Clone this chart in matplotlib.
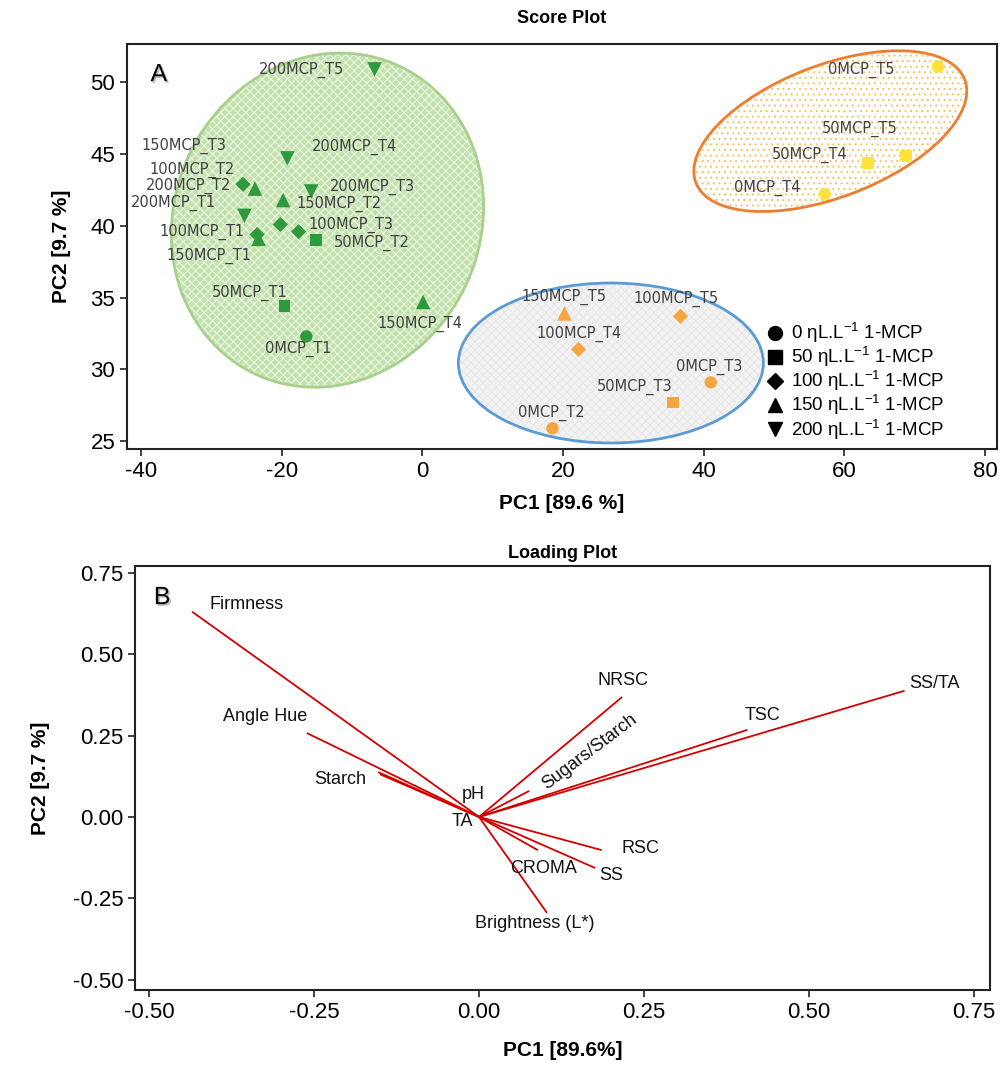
import matplotlib
matplotlib.use('Agg')
import matplotlib.pyplot as plt
from matplotlib.patches import Ellipse
from matplotlib.lines import Line2D
import matplotlib.transforms as mtrans
import matplotlib.patheffects as pe

ARIAL = 'Liberation Sans'

plt.rcParams['font.family'] = [ARIAL, 'DejaVu Sans']
plt.rcParams['mathtext.fontset'] = 'custom'
plt.rcParams['mathtext.rm'] = ARIAL
plt.rcParams['mathtext.default'] = 'regular'
plt.rcParams['hatch.linewidth'] = 0.7
plt.rcParams['axes.unicode_minus'] = False

# ---------------- Score plot data ----------------
sample_names = ['200MCP_T5', '200MCP_T4', '200MCP_T3', '200MCP_T1', '150MCP_T3', '150MCP_T2',
                '150MCP_T1', '150MCP_T4', '100MCP_T2', '200MCP_T2', '100MCP_T3', '100MCP_T1',
                '50MCP_T2', '50MCP_T1', '0MCP_T1',
                '150MCP_T5', '100MCP_T5', '100MCP_T4', '0MCP_T3', '50MCP_T3', '0MCP_T2',
                '0MCP_T5', '50MCP_T5', '50MCP_T4', '0MCP_T4']
pc1 = [-6.8, -19.2, -15.8, -25.3, -23.8, -19.8, -23.3, 0.1, -25.5, -20.2, -17.6, -23.5,
       -15.1, -19.6, -16.5,
       20.2, 36.7, 22.2, 41.0, 35.6, 18.5,
       73.3, 68.8, 63.4, 57.2]
pc2 = [50.9, 44.7, 42.4, 40.7, 42.6, 41.8, 39.1, 34.7, 42.9, 40.1, 39.6, 39.4,
       39.0, 34.4, 32.3,
       33.9, 33.7, 31.4, 29.1, 27.7, 25.9,
       51.1, 44.9, 44.4, 42.2]
shape = ['v', 'v', 'v', 'v', '^', '^', '^', '^', 'D', 'D', 'D', 'D',
         's', 's', 'o',
         '^', 'D', 'D', 'o', 's', 'o',
         'o', 's', 's', 'o']
group = ['g'] * 15 + ['o'] * 6 + ['y'] * 4

legend_labels = [r'0 ηL.L$^{-1}$ 1-MCP', r'50 ηL.L$^{-1}$ 1-MCP', r'100 ηL.L$^{-1}$ 1-MCP',
                 r'150 ηL.L$^{-1}$ 1-MCP', r'200 ηL.L$^{-1}$ 1-MCP']
legend_shapes = ['o', 's', 'D', '^', 'v']

# ---------------- Loading plot data ----------------
variables = ['Firmness', 'Angle Hue', 'Starch', '', 'NRSC', 'Sugars/Starch', 'TSC', 'SS/TA',
             'RSC', 'SS', 'CROMA', 'Brightness (L*)']
load_pc1 = [-0.435, -0.261, -0.153, -0.150, 0.217, 0.076, 0.407, 0.645, 0.186, 0.176, 0.089, 0.103]
load_pc2 = [0.631, 0.258, 0.138, 0.131, 0.369, 0.080, 0.268, 0.388, -0.102, -0.157, -0.102, -0.295]

# ---------------- layout / style ----------------
score_label_pos = {
    '200MCP_T5': (-17.2, 50.86), '200MCP_T4': (-9.7, 45.5), '150MCP_T3': (-33.9, 45.56),
    '100MCP_T2': (-32.7, 43.9), '200MCP_T2': (-33.3, 42.8), '200MCP_T3': (-7.1, 42.7),
    '200MCP_T1': (-35.4, 41.6), '150MCP_T2': (-11.8, 41.5), '100MCP_T3': (-10.1, 40.1),
    '100MCP_T1': (-31.3, 39.6), '50MCP_T2': (-7.25, 38.8), '150MCP_T1': (-30.4, 37.9),
    '50MCP_T1': (-24.6, 35.3), '0MCP_T1': (-17.6, 31.4), '150MCP_T4': (-0.4, 33.2),
    '150MCP_T5': (20.1, 35.05), '100MCP_T5': (36.0, 34.9), '100MCP_T4': (22.3, 32.5),
    '0MCP_T3': (40.8, 30.2), '50MCP_T3': (30.2, 28.8), '0MCP_T2': (18.35, 27.0),
    '0MCP_T5': (62.4, 50.9), '50MCP_T5': (62.2, 46.75), '50MCP_T4': (55.0, 44.95),
    '0MCP_T4': (49.1, 42.65),
}
load_label_pos = {
    'Firmness': (-0.352, 0.652, 0), 'Angle Hue': (-0.324, 0.308, 0), 'Starch': (-0.211, 0.114, 0),
    'NRSC': (0.218, 0.418, 0), 'Sugars/Starch': (0.167, 0.20, 37), 'TSC': (0.430, 0.311, 0),
    'SS/TA': (0.691, 0.409, 0), 'RSC': (0.244, -0.098, 0), 'SS': (0.20, -0.18, 0),
    'CROMA': (0.098, -0.157, 0), 'Brightness (L*)': (0.085, -0.329, 0),
    'pH': (-0.009, 0.068, 0), 'TA': (-0.026, -0.015, 0),
}
group_color = {'g': '#2f9a3d', 'o': '#f5a640', 'y': '#fde23a'}
marker_size = {'o': 80, 's': 70, 'D': 60, '^': 110, 'v': 110}

W, H = 1002, 1065
fig = plt.figure(figsize=(W / 100, H / 100), dpi=100)
ax1 = fig.add_axes([127 / W, 1 - 449 / H, 870 / W, 405 / H])
ax2 = fig.add_axes([135 / W, 1 - 990 / H, 855 / W, 424 / H])

ax1.set_xlim(-42.0, 81.7)
ax1.set_ylim(24.46, 52.67)


def ellipse(ax, cx, cy, w, h, ang, face, hatch, hcolor, edge):
    tr = mtrans.ScaledTranslation(cx, cy, ax.transData)
    ax.add_patch(Ellipse((0, 0), w, h, angle=ang, transform=tr, facecolor=face,
                         edgecolor='none', lw=0, zorder=1))
    if hatch:
        ax.add_patch(Ellipse((0, 0), w, h, angle=ang, transform=tr, facecolor='none',
                             edgecolor=hcolor, hatch=hatch, lw=0, zorder=1.1))
    ax.add_patch(Ellipse((0, 0), w, h, angle=ang, transform=tr, facecolor='none',
                         edgecolor=edge, lw=2, zorder=1.2))


ellipse(ax1, -13.5, 40.4, 306, 340, -25, '#c4e2ae', 'xxxx', '#eef7e8', '#a8d08d')
ellipse(ax1, 26.8, 30.45, 305, 160, 0, '#f3f3f3', 'xxxx', '#e6e6e6', '#5b9bd5')
ellipse(ax1, 58.0, 46.6, 288, 132, 21, 'white', '...', '#f8c256', '#ed7d31')

for n, x, y, s, g in zip(sample_names, pc1, pc2, shape, group):
    ax1.scatter([x], [y], marker=s, s=marker_size[s], color=group_color[g],
                edgecolors='none', zorder=3)
    tx, ty = score_label_pos[n]
    ax1.text(tx, ty, n, fontsize=10.5, family='DejaVu Sans', color='#404040',
             ha='center', va='center', zorder=4)

legend_msize = {'o': 10, 's': 9.5, 'D': 8, '^': 10, 'v': 10}
handles = [Line2D([], [], marker=m, color='black', ls='', markersize=legend_msize[m])
           for m in legend_shapes]
ax1.legend(handles, legend_labels, loc='upper left', bbox_to_anchor=(0.736, 0.316),
           frameon=False, fontsize=13.5, handlelength=0.8, handletextpad=0.45,
           labelspacing=0.0, borderpad=0, borderaxespad=0)

ax1.text(0.027, 0.955, 'A', transform=ax1.transAxes, fontsize=18, va='top', ha='left',
         path_effects=[pe.withSimplePatchShadow(offset=(1.2, -1.2), shadow_rgbFace='#888888', alpha=0.6)])

ax1.set_xticks([-40, -20, 0, 20, 40, 60, 80])
ax1.set_yticks([25, 30, 35, 40, 45, 50])
ax1.set_title('Score Plot', fontsize=13, fontweight='bold', pad=15)
ax1.set_xlabel('PC1 [89.6 %]', fontsize=15, fontweight='bold', labelpad=9)
ax1.set_ylabel('PC2 [9.7 %]', fontsize=15, fontweight='bold', labelpad=14)

# ---------------- loading plot ----------------
ax2.set_xlim(-0.5215, 0.7745)
ax2.set_ylim(-0.532, 0.7715)
for v, x, y in zip(variables, load_pc1, load_pc2):
    ax2.plot([0, x], [0, y], color='#d40000', lw=1.3, solid_capstyle='butt', zorder=2)
for v, (tx, ty, rot) in load_label_pos.items():
    ax2.text(tx, ty, v, fontsize=13, color='#111111', ha='center', va='center', rotation=rot,
             rotation_mode='anchor', zorder=3)
ax2.text(0.022, 0.955, 'B', transform=ax2.transAxes, fontsize=18, va='top', ha='left',
         path_effects=[pe.withSimplePatchShadow(offset=(1.2, -1.2), shadow_rgbFace='#888888', alpha=0.6)])
ax2.set_xticks([-0.5, -0.25, 0, 0.25, 0.5, 0.75])
ax2.set_xticklabels(['-0.50', '-0.25', '0.00', '0.25', '0.50', '0.75'])
ax2.set_yticks([-0.5, -0.25, 0, 0.25, 0.5, 0.75])
ax2.set_yticklabels(['-0.50', '-0.25', '0.00', '0.25', '0.50', '0.75'])
ax2.set_title('Loading Plot', fontsize=13, fontweight='bold', pad=6)
ax2.set_xlabel('PC1 [89.6%]', fontsize=15, fontweight='bold', labelpad=13)
ax2.set_ylabel('PC2 [9.7 %]', fontsize=15, fontweight='bold', labelpad=16)

for ax in (ax1, ax2):
    for sp in ax.spines.values():
        sp.set_linewidth(1.5)
        sp.set_color('#222222')
    ax.tick_params(direction='out', length=5, width=1.2, color='#222222')
    for lab in ax.get_yticklabels():
        lab.set_fontsize(16)
    for lab in ax.get_xticklabels():
        lab.set_fontsize(16)

fig.savefig('out.png', dpi=100)
